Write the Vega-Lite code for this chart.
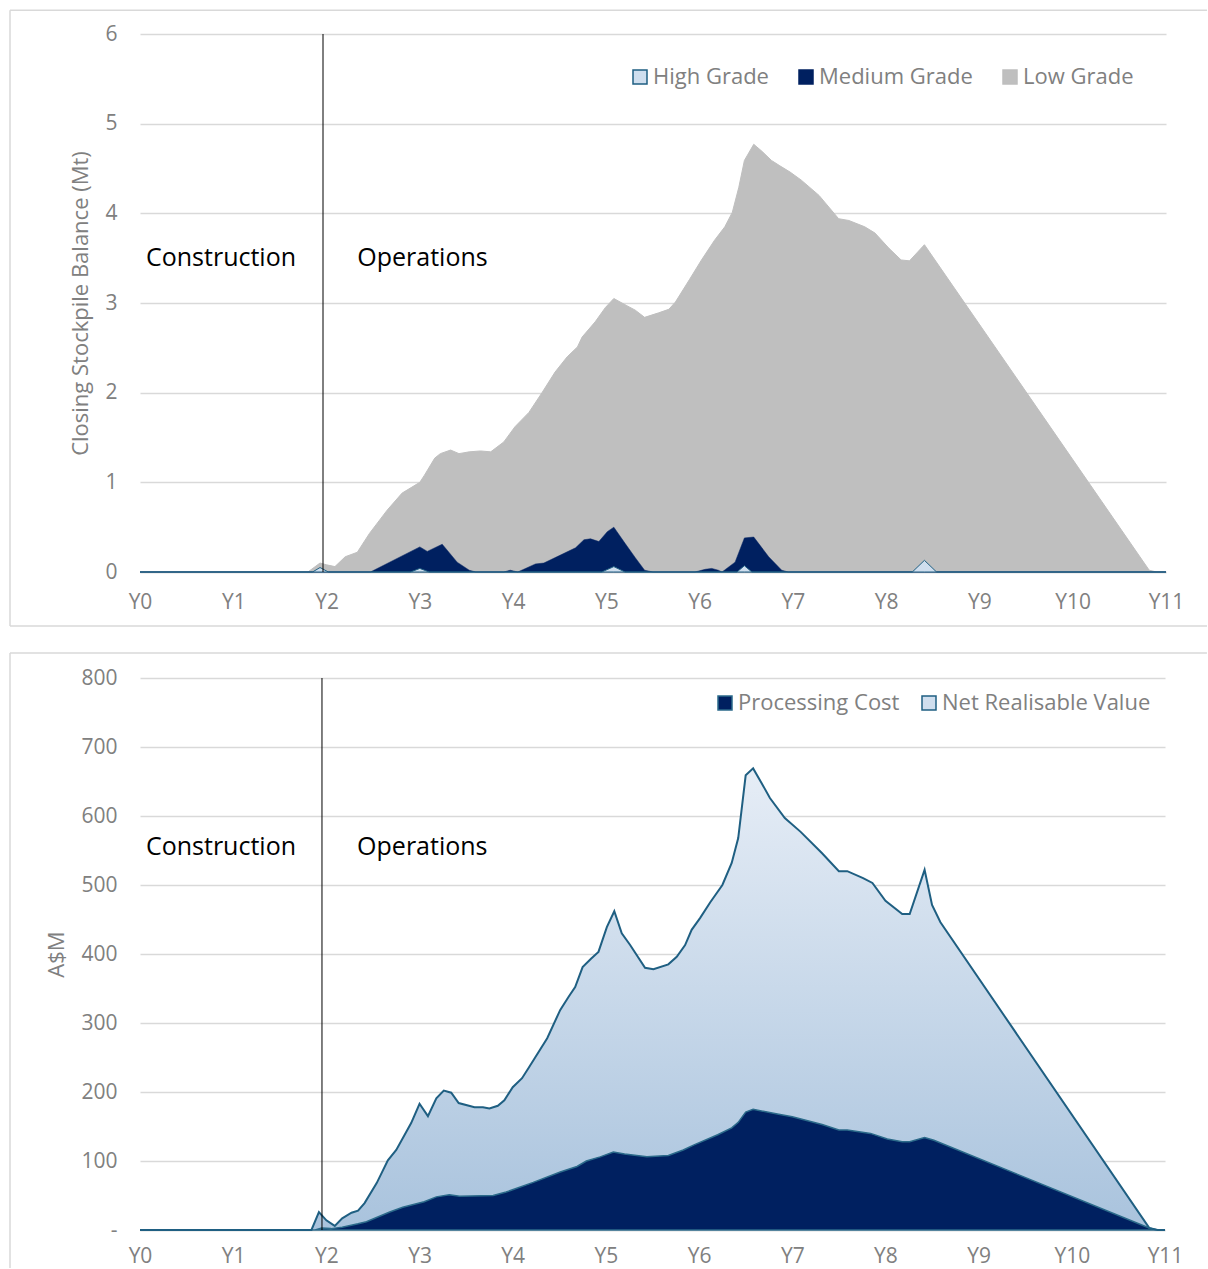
{
  "$schema": "https://vega.github.io/schema/vega-lite/v6.json",
  "padding": {"left": 9, "top": 9, "right": 0, "bottom": 0},
  "config": {"font": "Open Sans", "view": {"stroke": null}},
  "columns": 1,
  "align": "none",
  "spacing": 25,
  "resolve": {"scale": {"fill": "independent", "stroke": "independent"}, "legend": {"fill": "independent", "stroke": "independent"}},
  "datasets": {
    "grades": [
      {"t":0,"series":"Low Grade","v":0},{"t":1.8,"series":"Low Grade","v":0},{"t":1.93,"series":"Low Grade","v":0.1},{"t":2.0,"series":"Low Grade","v":0.08},{"t":2.09,"series":"Low Grade","v":0.06},{"t":2.2,"series":"Low Grade","v":0.17},{"t":2.33,"series":"Low Grade","v":0.22},{"t":2.46,"series":"Low Grade","v":0.43},{"t":2.65,"series":"Low Grade","v":0.69},{"t":2.81,"series":"Low Grade","v":0.88},{"t":3.0,"series":"Low Grade","v":1.0},{"t":3.05,"series":"Low Grade","v":1.08},{"t":3.16,"series":"Low Grade","v":1.27},{"t":3.22,"series":"Low Grade","v":1.32},{"t":3.33,"series":"Low Grade","v":1.36},{"t":3.42,"series":"Low Grade","v":1.32},{"t":3.53,"series":"Low Grade","v":1.34},{"t":3.65,"series":"Low Grade","v":1.35},{"t":3.76,"series":"Low Grade","v":1.34},{"t":3.9,"series":"Low Grade","v":1.45},{"t":4.02,"series":"Low Grade","v":1.62},{"t":4.17,"series":"Low Grade","v":1.78},{"t":4.31,"series":"Low Grade","v":2.0},{"t":4.45,"series":"Low Grade","v":2.23},{"t":4.58,"series":"Low Grade","v":2.4},{"t":4.69,"series":"Low Grade","v":2.51},{"t":4.74,"series":"Low Grade","v":2.62},{"t":4.88,"series":"Low Grade","v":2.79},{"t":4.99,"series":"Low Grade","v":2.95},{"t":5.08,"series":"Low Grade","v":3.05},{"t":5.22,"series":"Low Grade","v":2.97},{"t":5.31,"series":"Low Grade","v":2.92},{"t":5.41,"series":"Low Grade","v":2.84},{"t":5.56,"series":"Low Grade","v":2.89},{"t":5.67,"series":"Low Grade","v":2.93},{"t":5.74,"series":"Low Grade","v":3.01},{"t":5.89,"series":"Low Grade","v":3.26},{"t":6.02,"series":"Low Grade","v":3.48},{"t":6.16,"series":"Low Grade","v":3.7},{"t":6.27,"series":"Low Grade","v":3.85},{"t":6.35,"series":"Low Grade","v":4.01},{"t":6.42,"series":"Low Grade","v":4.29},{"t":6.48,"series":"Low Grade","v":4.59},{"t":6.58,"series":"Low Grade","v":4.77},{"t":6.67,"series":"Low Grade","v":4.69},{"t":6.77,"series":"Low Grade","v":4.59},{"t":6.86,"series":"Low Grade","v":4.53},{"t":6.97,"series":"Low Grade","v":4.46},{"t":7.09,"series":"Low Grade","v":4.37},{"t":7.28,"series":"Low Grade","v":4.2},{"t":7.49,"series":"Low Grade","v":3.94},{"t":7.6,"series":"Low Grade","v":3.92},{"t":7.77,"series":"Low Grade","v":3.85},{"t":7.88,"series":"Low Grade","v":3.78},{"t":8.03,"series":"Low Grade","v":3.61},{"t":8.16,"series":"Low Grade","v":3.48},{"t":8.25,"series":"Low Grade","v":3.47},{"t":8.41,"series":"Low Grade","v":3.65},{"t":10.82,"series":"Low Grade","v":0.02},{"t":10.9,"series":"Low Grade","v":0},{"t":11,"series":"Low Grade","v":0},
      {"t":0,"series":"Medium Grade","v":0},{"t":2.47,"series":"Medium Grade","v":0},{"t":3.0,"series":"Medium Grade","v":0.28},{"t":3.08,"series":"Medium Grade","v":0.23},{"t":3.24,"series":"Medium Grade","v":0.31},{"t":3.4,"series":"Medium Grade","v":0.11},{"t":3.53,"series":"Medium Grade","v":0.02},{"t":3.6,"series":"Medium Grade","v":0},{"t":3.9,"series":"Medium Grade","v":0},{"t":3.97,"series":"Medium Grade","v":0.02},{"t":4.05,"series":"Medium Grade","v":0},{"t":4.24,"series":"Medium Grade","v":0.09},{"t":4.33,"series":"Medium Grade","v":0.1},{"t":4.67,"series":"Medium Grade","v":0.27},{"t":4.76,"series":"Medium Grade","v":0.36},{"t":4.83,"series":"Medium Grade","v":0.37},{"t":4.92,"series":"Medium Grade","v":0.34},{"t":5.01,"series":"Medium Grade","v":0.45},{"t":5.08,"series":"Medium Grade","v":0.5},{"t":5.2,"series":"Medium Grade","v":0.32},{"t":5.31,"series":"Medium Grade","v":0.16},{"t":5.41,"series":"Medium Grade","v":0.02},{"t":5.5,"series":"Medium Grade","v":0},{"t":5.95,"series":"Medium Grade","v":0},{"t":6.06,"series":"Medium Grade","v":0.03},{"t":6.13,"series":"Medium Grade","v":0.04},{"t":6.2,"series":"Medium Grade","v":0.02},{"t":6.24,"series":"Medium Grade","v":0},{"t":6.38,"series":"Medium Grade","v":0.11},{"t":6.48,"series":"Medium Grade","v":0.38},{"t":6.58,"series":"Medium Grade","v":0.39},{"t":6.74,"series":"Medium Grade","v":0.17},{"t":6.88,"series":"Medium Grade","v":0.02},{"t":6.95,"series":"Medium Grade","v":0},{"t":11,"series":"Medium Grade","v":0},
      {"t":0,"series":"High Grade","v":0},{"t":1.85,"series":"High Grade","v":0},{"t":1.93,"series":"High Grade","v":0.05},{"t":2.02,"series":"High Grade","v":0},{"t":2.9,"series":"High Grade","v":0},{"t":3.0,"series":"High Grade","v":0.04},{"t":3.1,"series":"High Grade","v":0},{"t":4.95,"series":"High Grade","v":0},{"t":5.08,"series":"High Grade","v":0.06},{"t":5.2,"series":"High Grade","v":0},{"t":6.4,"series":"High Grade","v":0},{"t":6.48,"series":"High Grade","v":0.07},{"t":6.56,"series":"High Grade","v":0},{"t":8.28,"series":"High Grade","v":0},{"t":8.41,"series":"High Grade","v":0.13},{"t":8.54,"series":"High Grade","v":0},{"t":11,"series":"High Grade","v":0}
    ],
    "values": [
      {"t":0,"series":"Net Realisable Value","v":0},{"t":1.84,"series":"Net Realisable Value","v":0},{"t":1.92,"series":"Net Realisable Value","v":26},{"t":2.0,"series":"Net Realisable Value","v":14},{"t":2.09,"series":"Net Realisable Value","v":6},{"t":2.17,"series":"Net Realisable Value","v":17},{"t":2.27,"series":"Net Realisable Value","v":25},{"t":2.34,"series":"Net Realisable Value","v":28},{"t":2.41,"series":"Net Realisable Value","v":39},{"t":2.54,"series":"Net Realisable Value","v":68},{"t":2.66,"series":"Net Realisable Value","v":101},{"t":2.75,"series":"Net Realisable Value","v":116},{"t":2.91,"series":"Net Realisable Value","v":155},{"t":3.0,"series":"Net Realisable Value","v":183},{"t":3.09,"series":"Net Realisable Value","v":165},{"t":3.18,"series":"Net Realisable Value","v":191},{"t":3.26,"series":"Net Realisable Value","v":202},{"t":3.34,"series":"Net Realisable Value","v":199},{"t":3.42,"series":"Net Realisable Value","v":184},{"t":3.59,"series":"Net Realisable Value","v":178},{"t":3.68,"series":"Net Realisable Value","v":178},{"t":3.75,"series":"Net Realisable Value","v":176},{"t":3.84,"series":"Net Realisable Value","v":180},{"t":3.91,"series":"Net Realisable Value","v":188},{"t":4.0,"series":"Net Realisable Value","v":207},{"t":4.1,"series":"Net Realisable Value","v":220},{"t":4.18,"series":"Net Realisable Value","v":237},{"t":4.37,"series":"Net Realisable Value","v":278},{"t":4.51,"series":"Net Realisable Value","v":319},{"t":4.6,"series":"Net Realisable Value","v":338},{"t":4.67,"series":"Net Realisable Value","v":352},{"t":4.75,"series":"Net Realisable Value","v":381},{"t":4.84,"series":"Net Realisable Value","v":393},{"t":4.92,"series":"Net Realisable Value","v":403},{"t":5.01,"series":"Net Realisable Value","v":439},{"t":5.09,"series":"Net Realisable Value","v":462},{"t":5.17,"series":"Net Realisable Value","v":430},{"t":5.26,"series":"Net Realisable Value","v":413},{"t":5.42,"series":"Net Realisable Value","v":380},{"t":5.51,"series":"Net Realisable Value","v":378},{"t":5.67,"series":"Net Realisable Value","v":385},{"t":5.76,"series":"Net Realisable Value","v":396},{"t":5.85,"series":"Net Realisable Value","v":413},{"t":5.92,"series":"Net Realisable Value","v":435},{"t":6.01,"series":"Net Realisable Value","v":452},{"t":6.12,"series":"Net Realisable Value","v":475},{"t":6.25,"series":"Net Realisable Value","v":500},{"t":6.35,"series":"Net Realisable Value","v":532},{"t":6.42,"series":"Net Realisable Value","v":568},{"t":6.5,"series":"Net Realisable Value","v":659},{"t":6.58,"series":"Net Realisable Value","v":669},{"t":6.67,"series":"Net Realisable Value","v":648},{"t":6.76,"series":"Net Realisable Value","v":626},{"t":6.92,"series":"Net Realisable Value","v":597},{"t":7.09,"series":"Net Realisable Value","v":577},{"t":7.32,"series":"Net Realisable Value","v":546},{"t":7.5,"series":"Net Realisable Value","v":520},{"t":7.59,"series":"Net Realisable Value","v":520},{"t":7.76,"series":"Net Realisable Value","v":510},{"t":7.86,"series":"Net Realisable Value","v":503},{"t":8.0,"series":"Net Realisable Value","v":477},{"t":8.18,"series":"Net Realisable Value","v":458},{"t":8.26,"series":"Net Realisable Value","v":458},{"t":8.42,"series":"Net Realisable Value","v":522},{"t":8.5,"series":"Net Realisable Value","v":471},{"t":8.59,"series":"Net Realisable Value","v":446},{"t":10.83,"series":"Net Realisable Value","v":3},{"t":10.92,"series":"Net Realisable Value","v":0},{"t":11,"series":"Net Realisable Value","v":0},
      {"t":0,"series":"Processing Cost","v":0},{"t":1.88,"series":"Processing Cost","v":0},{"t":1.95,"series":"Processing Cost","v":3},{"t":2.05,"series":"Processing Cost","v":2},{"t":2.17,"series":"Processing Cost","v":4},{"t":2.34,"series":"Processing Cost","v":9},{"t":2.43,"series":"Processing Cost","v":12},{"t":2.68,"series":"Processing Cost","v":26},{"t":2.82,"series":"Processing Cost","v":33},{"t":3.05,"series":"Processing Cost","v":41},{"t":3.18,"series":"Processing Cost","v":48},{"t":3.32,"series":"Processing Cost","v":51},{"t":3.43,"series":"Processing Cost","v":49},{"t":3.79,"series":"Processing Cost","v":50},{"t":3.93,"series":"Processing Cost","v":55},{"t":4.22,"series":"Processing Cost","v":69},{"t":4.51,"series":"Processing Cost","v":84},{"t":4.69,"series":"Processing Cost","v":92},{"t":4.79,"series":"Processing Cost","v":100},{"t":4.94,"series":"Processing Cost","v":106},{"t":5.08,"series":"Processing Cost","v":113},{"t":5.2,"series":"Processing Cost","v":110},{"t":5.44,"series":"Processing Cost","v":106},{"t":5.67,"series":"Processing Cost","v":108},{"t":5.83,"series":"Processing Cost","v":116},{"t":5.94,"series":"Processing Cost","v":123},{"t":6.2,"series":"Processing Cost","v":138},{"t":6.35,"series":"Processing Cost","v":148},{"t":6.42,"series":"Processing Cost","v":156},{"t":6.5,"series":"Processing Cost","v":171},{"t":6.58,"series":"Processing Cost","v":175},{"t":6.84,"series":"Processing Cost","v":168},{"t":7.0,"series":"Processing Cost","v":164},{"t":7.32,"series":"Processing Cost","v":153},{"t":7.5,"series":"Processing Cost","v":145},{"t":7.59,"series":"Processing Cost","v":145},{"t":7.84,"series":"Processing Cost","v":140},{"t":8.02,"series":"Processing Cost","v":132},{"t":8.18,"series":"Processing Cost","v":128},{"t":8.26,"series":"Processing Cost","v":128},{"t":8.42,"series":"Processing Cost","v":134},{"t":8.52,"series":"Processing Cost","v":130},{"t":10.83,"series":"Processing Cost","v":3},{"t":10.92,"series":"Processing Cost","v":0},{"t":11,"series":"Processing Cost","v":0}
    ],
    "notesTop": [
      {"t":0.064,"v":3.5,"label":"Construction"},
      {"t":2.33,"v":3.5,"label":"Operations"}
    ],
    "notesBottom": [
      {"t":0.064,"v":555,"label":"Construction"},
      {"t":2.33,"v":555,"label":"Operations"}
    ]
  },
  "concat": [
    {
      "width": 1026,
      "height": 538,
      "layer": [
        {
          "data": {"values": [{}]},
          "mark": {"type": "rule", "color": "#D9D9D9", "strokeWidth": 1.5},
          "encoding": {
            "x": {"datum": -1.3938, "type": "quantitative"},
            "y": {"datum": 6.265, "type": "quantitative"},
            "y2": {"datum": -0.602}
          }
        },
        {
          "data": {"values": [{}]},
          "mark": {"type": "rule", "color": "#D9D9D9", "strokeWidth": 1.5},
          "encoding": {
            "x": {"datum": -1.3938, "type": "quantitative"},
            "x2": {"datum": 11.44},
            "y": {"datum": 6.265, "type": "quantitative"}
          }
        },
        {
          "data": {"values": [{}]},
          "mark": {"type": "rule", "color": "#D9D9D9", "strokeWidth": 1.5},
          "encoding": {
            "x": {"datum": -1.3938, "type": "quantitative"},
            "x2": {"datum": 11.44},
            "y": {"datum": -0.602, "type": "quantitative"}
          }
        },
        {
          "data": {"name": "grades"},
          "transform": [{"filter": "datum.series === 'Low Grade'"}],
          "mark": {"type": "area", "strokeWidth": 1},
          "encoding": {
            "x": {"field": "t", "type": "quantitative", "scale": {"domain": [0, 11], "nice": false},
              "axis": {"values": [0,1,2,3,4,5,6,7,8,9,10,11], "labelExpr": "'Y' + datum.value", "grid": false, "ticks": false, "domainColor": "#D9D9D9", "domainWidth": 1.5, "labelFontSize": 21, "labelColor": "#808080", "labelPadding": 19, "labelFlush": false, "labelOverlap": false, "labelBound": false, "title": null}},
            "y": {"field": "v", "type": "quantitative", "stack": null, "scale": {"domain": [0, 6], "nice": false},
              "axis": {"values": [0,1,2,3,4,5,6], "format": "d", "grid": true, "gridColor": "#D9D9D9", "gridWidth": 1.5, "domain": false, "ticks": false, "labelPadding": 23, "labelFontSize": 21, "labelColor": "#808080", "title": "Closing Stockpile Balance (Mt)", "titleFontSize": 22, "titleFontWeight": "normal", "titleColor": "#808080", "titlePadding": 12}},
            "fill": {"field": "series", "type": "nominal", "scale": {"domain": ["High Grade", "Medium Grade", "Low Grade"], "range": ["#CFDEEE", "#002060", "#BFBFBF"]},
              "legend": {"title": null, "orient": "top-right", "offset": 32, "direction": "horizontal", "symbolType": "square", "symbolSize": 196, "symbolStrokeWidth": 1.5, "labelFontSize": 22, "labelColor": "#808080", "labelOffset": 2, "columnPadding": 26, "labelLimit": 400}},
            "stroke": {"field": "series", "type": "nominal", "scale": {"domain": ["High Grade", "Medium Grade", "Low Grade"], "range": ["#1F5F82", "#002060", "#BFBFBF"]},
              "legend": {"title": null, "orient": "top-right", "offset": 32, "direction": "horizontal", "symbolType": "square", "symbolSize": 196, "symbolStrokeWidth": 1.5, "labelFontSize": 22, "labelColor": "#808080", "labelOffset": 2, "columnPadding": 26, "labelLimit": 400}}
          }
        },
        {
          "data": {"name": "grades"},
          "transform": [{"filter": "datum.series === 'Medium Grade'"}],
          "mark": {"type": "area", "strokeWidth": 0.5},
          "encoding": {
            "x": {"field": "t", "type": "quantitative"},
            "y": {"field": "v", "type": "quantitative", "stack": null},
            "fill": {"field": "series", "type": "nominal"},
            "stroke": {"field": "series", "type": "nominal"}
          }
        },
        {
          "data": {"name": "grades"},
          "transform": [{"filter": "datum.series === 'High Grade'"}],
          "mark": {"type": "area", "strokeWidth": 1},
          "encoding": {
            "x": {"field": "t", "type": "quantitative"},
            "y": {"field": "v", "type": "quantitative", "stack": null},
            "fill": {"field": "series", "type": "nominal"},
            "stroke": {"field": "series", "type": "nominal"}
          }
        },
        {
          "data": {"values": [{}]},
          "mark": {"type": "rule", "color": "#000000", "strokeWidth": 1},
          "encoding": {"x": {"datum": 1.962, "type": "quantitative"}}
        },
        {
          "data": {"name": "notesTop"},
          "mark": {"type": "text", "align": "left", "baseline": "middle", "fontSize": 25, "color": "#000000"},
          "encoding": {
            "x": {"field": "t", "type": "quantitative"},
            "y": {"field": "v", "type": "quantitative"},
            "text": {"field": "label"}
          }
        }
      ]
    },
    {
      "width": 1025,
      "height": 552,
      "layer": [
        {
          "data": {"values": [{}]},
          "mark": {"type": "rule", "color": "#D9D9D9", "strokeWidth": 1.5},
          "encoding": {
            "x": {"datum": -1.3951, "type": "quantitative"},
            "y": {"datum": 836.2, "type": "quantitative"},
            "y2": {"datum": -55.1}
          }
        },
        {
          "data": {"values": [{}]},
          "mark": {"type": "rule", "color": "#D9D9D9", "strokeWidth": 1.5},
          "encoding": {
            "x": {"datum": -1.3951, "type": "quantitative"},
            "x2": {"datum": 11.45},
            "y": {"datum": 836.2, "type": "quantitative"}
          }
        },
        {
          "data": {"name": "values"},
          "transform": [{"filter": "datum.series === 'Net Realisable Value'"}],
          "mark": {"type": "area", "fill": {"gradient": "linear", "x1": 0, "y1": 0, "x2": 0, "y2": 1, "stops": [{"offset": 0, "color": "#E6EDF6"}, {"offset": 1, "color": "#A9C3DD"}]}},
          "encoding": {
            "x": {"field": "t", "type": "quantitative", "scale": {"domain": [0, 11], "nice": false},
              "axis": {"values": [0,1,2,3,4,5,6,7,8,9,10,11], "labelExpr": "'Y' + datum.value", "grid": false, "ticks": false, "domainColor": "#D9D9D9", "domainWidth": 1.5, "labelFontSize": 21, "labelColor": "#808080", "labelPadding": 15, "labelFlush": false, "labelOverlap": false, "labelBound": false, "title": null}},
            "y": {"field": "v", "type": "quantitative", "stack": null, "scale": {"domain": [0, 800], "nice": false},
              "axis": {"values": [0,100,200,300,400,500,600,700,800], "labelExpr": "datum.value === 0 ? '-' : datum.label", "grid": true, "gridColor": "#D9D9D9", "gridWidth": 1.5, "domain": false, "ticks": false, "labelPadding": 23, "labelFontSize": 21, "labelColor": "#808080", "title": "A$M", "titleFontSize": 22, "titleFontWeight": "normal", "titleColor": "#808080", "titlePadding": 12}}
          }
        },
        {
          "data": {"name": "values"},
          "transform": [{"filter": "datum.series === 'Processing Cost'"}],
          "mark": {"type": "area", "strokeWidth": 1.5},
          "encoding": {
            "x": {"field": "t", "type": "quantitative"},
            "y": {"field": "v", "type": "quantitative", "stack": null},
            "fill": {"field": "series", "type": "nominal", "scale": {"domain": ["Processing Cost", "Net Realisable Value"], "range": ["#002060", "#CFDEEE"]},
              "legend": {"title": null, "orient": "top-right", "offset": 14, "direction": "horizontal", "symbolType": "square", "symbolSize": 196, "symbolStrokeWidth": 1.5, "labelFontSize": 22, "labelColor": "#808080", "labelOffset": 2, "columnPadding": 18, "labelLimit": 400}},
            "stroke": {"field": "series", "type": "nominal", "scale": {"domain": ["Processing Cost", "Net Realisable Value"], "range": ["#2B6A8A", "#1F5F82"]},
              "legend": {"title": null, "orient": "top-right", "offset": 14, "direction": "horizontal", "symbolType": "square", "symbolSize": 196, "symbolStrokeWidth": 1.5, "labelFontSize": 22, "labelColor": "#808080", "labelOffset": 2, "columnPadding": 18, "labelLimit": 400}}
          }
        },
        {
          "data": {"name": "values"},
          "transform": [{"filter": "datum.series === 'Net Realisable Value'"}],
          "mark": {"type": "line", "strokeWidth": 2},
          "encoding": {
            "x": {"field": "t", "type": "quantitative"},
            "y": {"field": "v", "type": "quantitative", "stack": null},
            "stroke": {"field": "series", "type": "nominal"}
          }
        },
        {
          "data": {"values": [{}]},
          "mark": {"type": "rule", "color": "#000000", "strokeWidth": 1},
          "encoding": {"x": {"datum": 1.953, "type": "quantitative"}}
        },
        {
          "data": {"name": "notesBottom"},
          "mark": {"type": "text", "align": "left", "baseline": "middle", "fontSize": 25, "color": "#000000"},
          "encoding": {
            "x": {"field": "t", "type": "quantitative"},
            "y": {"field": "v", "type": "quantitative"},
            "text": {"field": "label"}
          }
        }
      ]
    }
  ]
}
